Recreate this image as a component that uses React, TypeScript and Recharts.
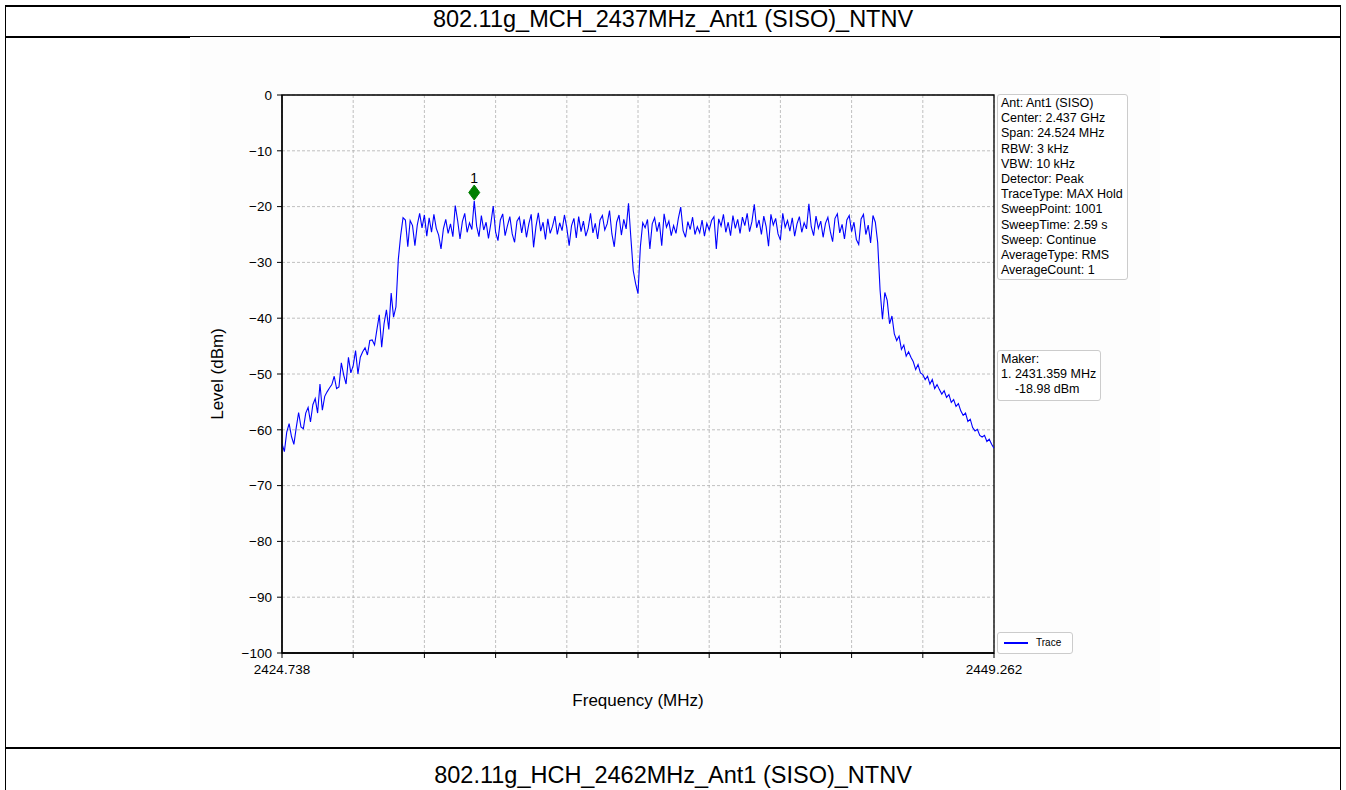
import { CartesianGrid, Line, LineChart, ReferenceArea, ReferenceDot, XAxis, YAxis } from "recharts";

const START_MHZ = 2424.738;
const STOP_MHZ = 2449.262;

const levels = [
  -62.5, -63.9, -60.4, -58.9, -61.2, -62.6, -59.6, -56.9, -59.5, -59.8,
  -57.0, -56.0, -58.6, -55.5, -54.4, -57.0, -51.8, -56.5, -54.0, -53.2,
  -52.5, -51.9, -50.4, -52.6, -52.3, -48.0, -50.2, -51.8, -47.0, -49.8,
  -48.5, -45.8, -50.0, -47.0, -46.0, -45.3, -46.6, -44.0, -43.9, -44.8,
  -42.0, -39.4, -45.2, -41.0, -38.5, -42.0, -35.5, -39.8, -38.0, -29.5,
  -25.2, -22.0, -22.4, -27.2, -22.5, -23.4, -27.0, -23.3, -21.2, -23.8,
  -21.5, -25.3, -22.0, -24.6, -21.4, -23.9, -25.1, -27.6, -24.0, -22.3,
  -24.8, -23.1, -25.4, -19.8, -22.5, -25.8, -22.7, -21.2, -24.6, -22.9,
  -24.1, -18.98, -23.5, -25.4, -21.6, -24.2, -22.8, -25.7, -23.0, -19.9,
  -24.6, -26.1, -22.4, -21.3, -25.2, -23.4, -21.8, -24.9, -26.4, -22.6,
  -21.9, -24.7, -22.3, -25.5, -23.1, -21.4, -27.3, -23.6, -21.1, -24.4,
  -22.8, -25.9, -22.2, -24.8, -23.5, -21.7, -25.0, -22.9, -24.3, -21.5,
  -23.8, -27.0, -23.4, -22.1, -25.6, -21.8, -24.5, -22.6, -25.3, -23.9,
  -21.2, -24.7, -23.0, -25.8, -22.4, -21.6, -24.2, -23.1, -20.7, -24.9,
  -27.2, -22.8, -21.5, -25.1, -22.3, -24.0, -19.4, -25.6, -31.5, -33.8,
  -35.6, -27.2, -22.9, -23.8, -22.3, -27.6, -23.1, -22.0, -24.5, -22.8,
  -27.0, -21.3, -23.7, -22.6, -25.2, -23.4, -24.8, -22.1, -20.1, -24.3,
  -25.5, -22.7, -24.1, -21.9, -25.0, -23.6, -24.7, -22.4, -25.3, -23.0,
  -24.2, -22.5, -21.8, -27.6, -22.2, -23.5, -21.4, -24.6, -22.8, -25.2,
  -21.6, -23.9, -22.3, -24.8, -21.9, -23.4, -21.2, -24.5, -22.7, -19.6,
  -23.8, -22.4, -25.0, -21.7, -23.6, -27.1, -21.4, -23.3, -22.1, -24.9,
  -26.0, -21.2, -23.7, -22.5, -24.4, -22.0, -25.3, -23.1, -21.8, -24.6,
  -22.9, -24.0, -19.5, -23.6, -25.2, -21.7, -23.9, -22.6, -25.5, -23.0,
  -21.9, -24.4, -26.3, -22.1, -21.3, -24.7, -23.2, -25.8, -22.4, -21.6,
  -24.5, -22.8, -25.9, -26.8, -22.2, -21.4, -25.0, -23.3, -26.5, -21.6,
  -22.8, -26.5, -35.0, -40.2, -35.4, -36.8, -41.0, -39.6, -42.8, -44.0,
  -43.2, -45.6, -44.8, -46.8, -46.0, -47.0, -47.8, -49.2, -48.3, -49.8,
  -50.1, -51.0, -50.4, -51.8, -51.0, -52.6, -51.9, -52.8, -53.6, -53.0,
  -54.2, -53.7, -55.1, -54.6, -55.8, -55.3, -56.6, -57.4, -57.0, -58.5,
  -58.1, -59.6, -60.2, -59.9, -61.0, -61.3, -61.0, -62.1, -61.7, -62.6,
  -63.3,
];

const yTicks = [0, -10, -20, -30, -40, -50, -60, -70, -80, -90, -100];
const X_DIVISIONS = 10;

const markerFreq = 2431.359;
const markerLevel = -18.98;
const MARKER_LIFT = 1.5; // diamond sits a little above the trace point

const infoLines = [
  "Ant: Ant1 (SISO)",
  "Center: 2.437 GHz",
  "Span: 24.524 MHz",
  "RBW: 3 kHz",
  "VBW: 10 kHz",
  "Detector: Peak",
  "TraceType: MAX Hold",
  "SweepPoint: 1001",
  "SweepTime: 2.59 s",
  "Sweep: Continue",
  "AverageType: RMS",
  "AverageCount: 1",
];
const makerLines = ["Maker:", "1. 2431.359 MHz", "\u00a0\u00a0\u00a0\u00a0-18.98 dBm"];

const step = (STOP_MHZ - START_MHZ) / (levels.length - 1);
const data = levels.map((level, i) => ({ freq: START_MHZ + i * step, level }));
const xTicks = Array.from({ length: X_DIVISIONS + 1 }, (_, k) =>
  k === X_DIVISIONS ? STOP_MHZ : START_MHZ + (k * (STOP_MHZ - START_MHZ)) / X_DIVISIONS,
);

const FONT = '"Liberation Sans", Arial, sans-serif';

function fmtY(v: number): string {
  return v < 0 ? `\u2212${-v}` : String(v);
}

function fmtX(v: number): string {
  if (Math.abs(v - START_MHZ) < 1e-6 || Math.abs(v - STOP_MHZ) < 1e-6) return v.toFixed(3);
  return "";
}

function Diamond(props: { cx?: number; cy?: number }) {
  const { cx = 0, cy = 0 } = props;
  return (
    <g>
      <path
        d={`M${cx},${cy - 7.5} L${cx + 5.5},${cy} L${cx},${cy + 7.5} L${cx - 5.5},${cy} Z`}
        fill="#008000"
        stroke="#008000"
      />
      <text x={cx} y={cy - 10} textAnchor="middle" fontSize={14} fill="#000" fontFamily={FONT}>
        1
      </text>
    </g>
  );
}

const boxStyle: React.CSSProperties = {
  position: "absolute",
  border: "1px solid #cccccc",
  borderRadius: 3,
  background: "#fff",
  fontSize: 12.5,
  lineHeight: "15.2px",
  padding: "0 4px 0 3px",
  color: "#000",
  whiteSpace: "nowrap",
};

export default function App() {
  return (
    <div
      style={{
        position: "absolute",
        left: 0,
        top: 0,
        width: 1346,
        height: 790,
        overflow: "hidden",
        background: "#fff",
        fontFamily: FONT,
      }}
    >
      {/* table frame */}
      <div style={{ position: "absolute", left: 5, top: 5, width: 1336, height: 2, background: "#000" }} />
      <div style={{ position: "absolute", left: 5, top: 5, width: 1, height: 790, background: "#000" }} />
      <div style={{ position: "absolute", left: 1340, top: 5, width: 1, height: 790, background: "#000" }} />
      <div style={{ position: "absolute", left: 5, top: 36, width: 1336, height: 2, background: "#000" }} />
      <div style={{ position: "absolute", left: 5, top: 747, width: 1336, height: 2, background: "#000" }} />
      <div style={{ position: "absolute", left: 5, width: 1336, top: 6, textAlign: "center", fontSize: 23.5 }}>
        802.11g_MCH_2437MHz_Ant1 (SISO)_NTNV
      </div>
      <div style={{ position: "absolute", left: 5, width: 1336, top: 762, textAlign: "center", fontSize: 23.5 }}>
        802.11g_HCH_2462MHz_Ant1 (SISO)_NTNV
      </div>

      {/* chart picture, laid over the row rule */}
      <div style={{ position: "absolute", left: 190, top: 37, width: 970, height: 710, background: "#fdfdfd" }}>
        <LineChart
          width={970}
          height={710}
          data={data}
          margin={{ top: 58, right: 166, bottom: 0, left: 32 }}
        >
          <CartesianGrid stroke="#b0b0b0" strokeDasharray="3 2" strokeWidth={0.8} />
          <XAxis
            dataKey="freq"
            type="number"
            domain={[START_MHZ, STOP_MHZ]}
            ticks={xTicks}
            interval={0}
            tickFormatter={fmtX}
            tickSize={5}
            tickMargin={6}
            height={94}
            axisLine={{ stroke: "#000", strokeWidth: 1.3 }}
            tickLine={{ stroke: "#000" }}
            tick={{ fill: "#000", fontSize: 13.5, fontFamily: FONT }}
            allowDataOverflow
          />
          <YAxis
            type="number"
            domain={[-100, 0]}
            ticks={yTicks}
            interval={0}
            tickFormatter={fmtY}
            tickSize={5}
            tickMargin={5}
            width={60}
            axisLine={{ stroke: "#000", strokeWidth: 1.3 }}
            tickLine={{ stroke: "#000" }}
            tick={{ fill: "#000", fontSize: 13.5, fontFamily: FONT }}
            allowDataOverflow
          />
          <ReferenceArea
            x1={START_MHZ}
            x2={STOP_MHZ}
            y1={-100}
            y2={0}
            fill="none"
            fillOpacity={0}
            stroke="#000"
            strokeWidth={1.3}
          />
          <Line
            dataKey="level"
            stroke="#0000ff"
            strokeWidth={1.1}
            dot={false}
            isAnimationActive={false}
          />
          <ReferenceDot
            x={markerFreq}
            y={markerLevel + MARKER_LIFT}
            r={6}
            shape={(p: { cx?: number; cy?: number }) => <Diamond cx={p.cx} cy={p.cy} />}
          />
        </LineChart>

        <div
          style={{
            position: "absolute",
            left: 28,
            top: 337,
            transform: "translate(-50%, -50%) rotate(-90deg)",
            fontSize: 17,
            whiteSpace: "nowrap",
          }}
        >
          Level (dBm)
        </div>
        <div
          style={{
            position: "absolute",
            left: 448,
            top: 664,
            transform: "translate(-50%, -50%)",
            fontSize: 17,
            whiteSpace: "nowrap",
          }}
        >
          Frequency (MHz)
        </div>

        <div style={{ ...boxStyle, left: 807, top: 57, paddingTop: 1, paddingBottom: 1 }}>
          {infoLines.map((t) => (
            <div key={t}>{t}</div>
          ))}
        </div>
        <div style={{ ...boxStyle, left: 807, top: 313, paddingTop: 1, paddingBottom: 2 }}>
          {makerLines.map((t) => (
            <div key={t}>{t}</div>
          ))}
        </div>
        <div
          style={{
            ...boxStyle,
            left: 807,
            top: 595,
            height: 20,
            width: 74,
            padding: 0,
            fontSize: 10,
            display: "flex",
            alignItems: "center",
          }}
        >
          <div style={{ width: 24, height: 1.5, background: "#0000ff", marginLeft: 6, marginRight: 8 }} />
          <span>Trace</span>
        </div>
      </div>
    </div>
  );
}
